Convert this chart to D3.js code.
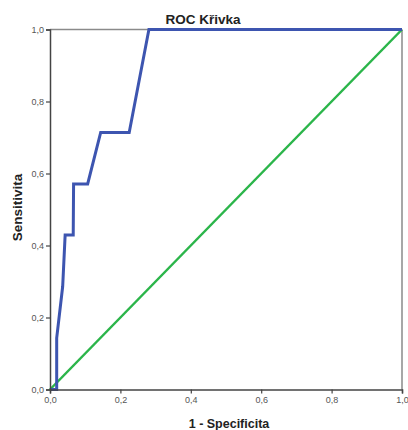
<!DOCTYPE html>
<html>
<head>
<meta charset="utf-8">
<script src="https://cdn.jsdelivr.net/npm/d3@7"></script>
<style>
  html, body { margin: 0; padding: 0; background: #fff; }
  svg { display: block; }
  .tick text { font-family: "Liberation Sans", Arial, sans-serif; font-size: 9px; fill: #555; }
</style>
</head>
<body>
<div id="chart"></div>
<script>
const title = "ROC Křivka";
const xLabel = "1 - Specificita";
const yLabel = "Sensitivita";
const tickValues = [0, 0.2, 0.4, 0.6, 0.8, 1.0];
const rocFpr = [0, 0.019, 0.019, 0.036, 0.043, 0.066, 0.067, 0.107, 0.144, 0.225, 0.281, 1.0];
const rocTpr = [0, 0, 0.143, 0.286, 0.429, 0.429, 0.571, 0.571, 0.714, 0.714, 1.0, 1.0];
const refX = [0, 1];
const refY = [0, 1];

const W = 408, H = 430;
const m = { left: 50, right: 6, top: 29.5, bottom: 40.5 };

const svg = d3.select("#chart").append("svg").attr("width", W).attr("height", H);

const x = d3.scaleLinear().domain([0, 1]).range([m.left, W - m.right]);
const y = d3.scaleLinear().domain([0, 1]).range([H - m.bottom, m.top]);
const fmt = d => d3.format(".1f")(d).replace(".", ",");

// frame (top & right)
svg.append("line").attr("x1", x(0)).attr("x2", x(1)).attr("y1", y(1)).attr("y2", y(1))
  .attr("stroke", "#8a8a8a").attr("stroke-width", 1.5);
svg.append("line").attr("x1", x(1)).attr("x2", x(1)).attr("y1", y(0)).attr("y2", y(1))
  .attr("stroke", "#8a8a8a").attr("stroke-width", 1.5);

// reference diagonal
svg.append("path")
  .datum(refX.map((v, i) => [v, refY[i]]))
  .attr("d", d3.line().x(d => x(d[0])).y(d => y(d[1])))
  .attr("fill", "none").attr("stroke", "#2bb54a").attr("stroke-width", 2.5);

// ROC curve
svg.append("path")
  .datum(rocFpr.map((v, i) => [v, rocTpr[i]]))
  .attr("d", d3.line().x(d => x(d[0])).y(d => y(d[1])))
  .attr("fill", "none").attr("stroke", "#3d55b0").attr("stroke-width", 3)
  .attr("stroke-linejoin", "miter");

// axes
const xAxis = svg.append("g").attr("transform", `translate(0,${y(0)})`)
  .call(d3.axisBottom(x).tickValues(tickValues).tickFormat(fmt).tickSize(4).tickPadding(3));
const yAxis = svg.append("g").attr("transform", `translate(${x(0)},0)`)
  .call(d3.axisLeft(y).tickValues(tickValues).tickFormat(fmt).tickSize(4).tickPadding(2));
[xAxis, yAxis].forEach(a => {
  a.select(".domain").attr("stroke", "#444").attr("stroke-width", 1.5);
  a.selectAll(".tick line").attr("stroke", "#444").attr("stroke-width", 1.2);
});

// title
svg.append("text").attr("x", 203).attr("y", 23.5).attr("text-anchor", "middle")
  .attr("font-family", "Liberation Sans, Arial, sans-serif").attr("font-weight", "bold")
  .attr("font-size", 13.5).attr("fill", "#222").text(title);

// x label
svg.append("text").attr("x", 229).attr("y", 428).attr("text-anchor", "middle")
  .attr("font-family", "Liberation Sans, Arial, sans-serif").attr("font-weight", "bold")
  .attr("font-size", 12.5).attr("fill", "#222").text(xLabel);

// y label
svg.append("text").attr("transform", `translate(22,${(y(0) + y(1)) / 2 - 2}) rotate(-90)`)
  .attr("text-anchor", "middle")
  .attr("font-family", "Liberation Sans, Arial, sans-serif").attr("font-weight", "bold")
  .attr("font-size", 13.5).attr("fill", "#222").text(yLabel);
</script>
</body>
</html>
